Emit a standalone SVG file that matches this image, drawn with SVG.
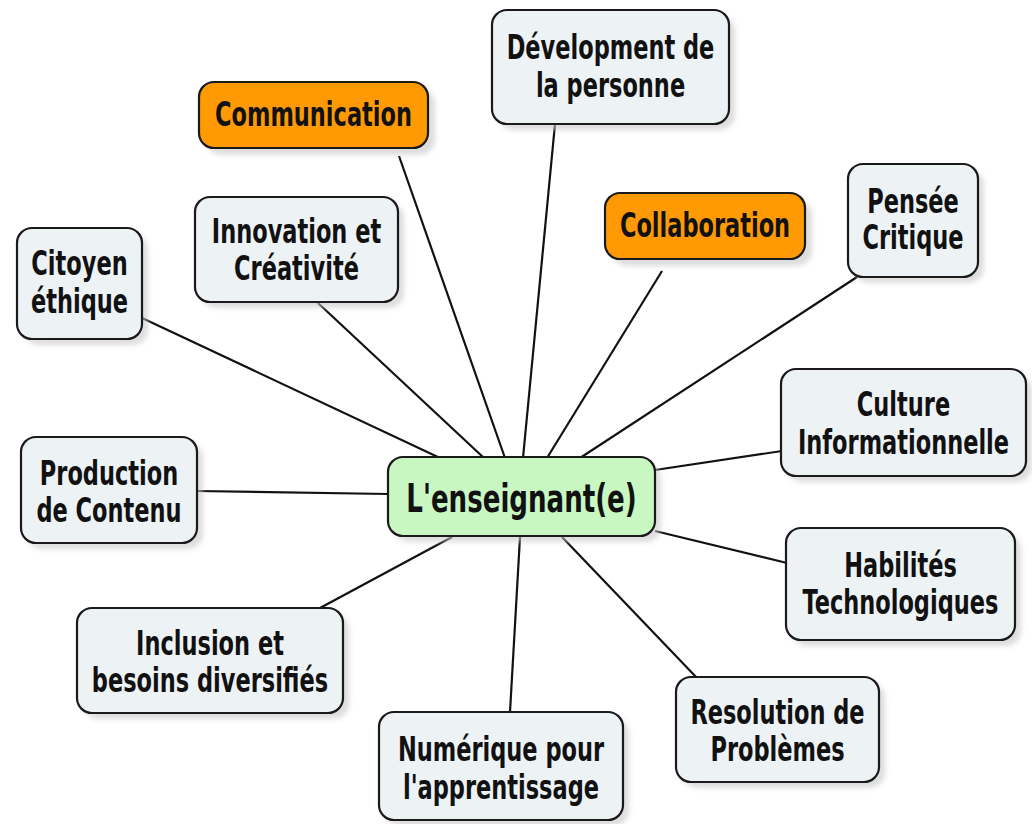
<svg xmlns="http://www.w3.org/2000/svg" width="1032" height="824" viewBox="0 0 1032 824">
<defs>
<filter id="sh" x="-20%" y="-20%" width="140%" height="140%">
<feGaussianBlur stdDeviation="2.5"/>
</filter>
<style>
.box{stroke:#1a1a1a;stroke-width:2.2}
.g{fill:#edf2f5}
.o{fill:#ff9a05}
.c{fill:#c8f7c2}
.shd{fill:#c8c8c8;opacity:0.6;filter:url(#sh)}
.t{font-family:"DejaVu Sans Condensed","DejaVu Sans",sans-serif;font-stretch:condensed;font-weight:bold;font-size:25px;fill:#111;text-anchor:middle}
.tc{font-size:29px}
.ln{stroke:#111;stroke-width:2.2;fill:none}
</style>
</defs>
<rect width="1032" height="824" fill="#fff"/>
<g id="connectors">
<line class="ln" x1="555" y1="124" x2="523" y2="458"/>
<line class="ln" x1="399" y1="156" x2="505" y2="458"/>
<line class="ln" x1="662" y1="271" x2="547" y2="458"/>
<line class="ln" x1="857" y1="277" x2="580" y2="458"/>
<line class="ln" x1="318" y1="303" x2="484" y2="458"/>
<line class="ln" x1="142" y1="318" x2="440" y2="458"/>
<line class="ln" x1="782" y1="451" x2="655" y2="470"/>
<line class="ln" x1="197" y1="491" x2="388" y2="494"/>
<line class="ln" x1="655" y1="531" x2="787" y2="563"/>
<line class="ln" x1="320" y1="608" x2="452" y2="537"/>
<line class="ln" x1="697" y1="678" x2="562" y2="537"/>
<line class="ln" x1="510" y1="712" x2="520" y2="537"/>
</g>
<g id="n-dev">
<rect class="shd" x="498" y="16" width="237" height="114" rx="15"/>
<rect class="box g" x="492" y="10" width="237" height="114" rx="15"/>
<text class="t" transform="translate(610.5,59) scale(1,1.32)">Dévelopment de</text>
<text class="t" transform="translate(610.5,97) scale(1,1.32)">la personne</text>
</g>
<g id="n-comm">
<rect class="shd" x="206" y="89" width="229" height="66" rx="15"/>
<rect class="box o" x="199" y="82" width="229" height="66" rx="15"/>
<text class="t" transform="translate(313.5,126) scale(1,1.32)">Communication</text>
</g>
<g id="n-collab">
<rect class="shd" x="612" y="200" width="200" height="66" rx="15"/>
<rect class="box o" x="605" y="193" width="200" height="66" rx="15"/>
<text class="t" transform="translate(705,237) scale(1,1.32)">Collaboration</text>
</g>
<g id="n-pensee">
<rect class="shd" x="854" y="170" width="130" height="113" rx="15"/>
<rect class="box g" x="848" y="164" width="130" height="113" rx="15"/>
<text class="t" transform="translate(913,213) scale(1,1.32)">Pensée</text>
<text class="t" transform="translate(913,249) scale(1,1.32)">Critique</text>
</g>
<g id="n-innov">
<rect class="shd" x="201" y="203" width="203" height="105" rx="15"/>
<rect class="box g" x="195" y="197" width="203" height="105" rx="15"/>
<text class="t" transform="translate(296.5,243) scale(1,1.32)">Innovation et</text>
<text class="t" transform="translate(296.5,280) scale(1,1.32)">Créativité</text>
</g>
<g id="n-citoyen">
<rect class="shd" x="23" y="234" width="125" height="111" rx="15"/>
<rect class="box g" x="17" y="228" width="125" height="111" rx="15"/>
<text class="t" transform="translate(79.5,275) scale(1,1.32)">Citoyen</text>
<text class="t" transform="translate(79.5,313) scale(1,1.32)">éthique</text>
</g>
<g id="n-culture">
<rect class="shd" x="787" y="375" width="245" height="107" rx="15"/>
<rect class="box g" x="781" y="369" width="245" height="107" rx="15"/>
<text class="t" transform="translate(903.5,416) scale(1,1.32)">Culture</text>
<text class="t" transform="translate(903.5,454) scale(1,1.32)">Informationnelle</text>
</g>
<g id="n-prod">
<rect class="shd" x="27" y="443" width="176" height="106" rx="15"/>
<rect class="box g" x="21" y="437" width="176" height="106" rx="15"/>
<text class="t" transform="translate(109,485) scale(1,1.32)">Production</text>
<text class="t" transform="translate(109,522) scale(1,1.32)">de Contenu</text>
</g>
<g id="n-center">
<rect class="shd" x="394" y="463" width="267" height="79" rx="15"/>
<rect class="box c" x="388" y="457" width="267" height="79" rx="15"/>
<text class="t tc" transform="translate(521.5,512) scale(1,1.32)">L'enseignant(e)</text>
</g>
<g id="n-habil">
<rect class="shd" x="792" y="534" width="229" height="112" rx="15"/>
<rect class="box g" x="786" y="528" width="229" height="112" rx="15"/>
<text class="t" transform="translate(900.5,577) scale(1,1.32)">Habilités</text>
<text class="t" transform="translate(900.5,614) scale(1,1.32)">Technologiques</text>
</g>
<g id="n-incl">
<rect class="shd" x="83" y="614" width="266" height="105" rx="15"/>
<rect class="box g" x="77" y="608" width="266" height="105" rx="15"/>
<text class="t" transform="translate(210,655) scale(1,1.32)">Inclusion et</text>
<text class="t" transform="translate(210,692) scale(1,1.32)">besoins diversifiés</text>
</g>
<g id="n-resol">
<rect class="shd" x="682" y="683" width="203" height="105" rx="15"/>
<rect class="box g" x="676" y="677" width="203" height="105" rx="15"/>
<text class="t" transform="translate(777.5,724) scale(1,1.32)">Resolution de</text>
<text class="t" transform="translate(777.5,761) scale(1,1.32)">Problèmes</text>
</g>
<g id="n-num">
<rect class="shd" x="385" y="718" width="244" height="108" rx="15"/>
<rect class="box g" x="379" y="712" width="244" height="108" rx="15"/>
<text class="t" transform="translate(501,761) scale(1,1.32)">Numérique pour</text>
<text class="t" transform="translate(501,799) scale(1,1.32)">l'apprentissage</text>
</g>
</svg>
